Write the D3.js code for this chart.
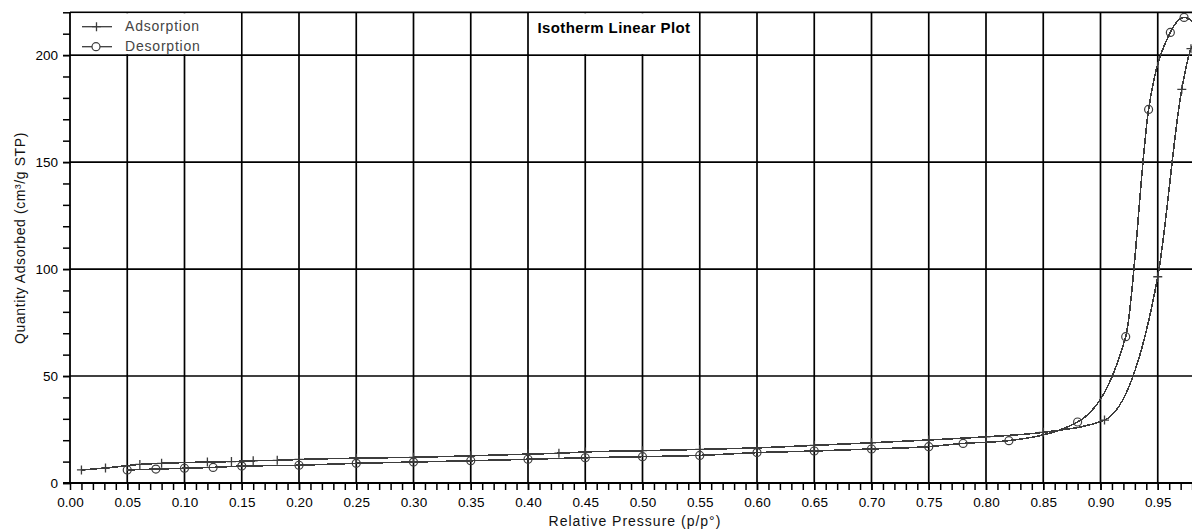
<!DOCTYPE html>
<html>
<head>
<meta charset="utf-8">
<script src="https://cdn.jsdelivr.net/npm/d3@7"></script>
<style>
  html, body { margin: 0; padding: 0; background: #fff; overflow: hidden; }
  svg { display: block; font-family: "Liberation Sans", Arial, sans-serif; }
</style>
</head>
<body>
<svg id="chart" width="1192" height="529"></svg>
<script>
// ---- data ----
const adsP = [0.010, 0.031, 0.061, 0.080, 0.120, 0.141, 0.160, 0.181, 0.200, 0.250, 0.300, 0.350, 0.400, 0.427, 0.450, 0.500, 0.550, 0.600, 0.650, 0.700, 0.750, 0.800, 0.850, 0.9035, 0.950, 0.971, 0.979, 0.990];
const adsV = [6.1, 7.0, 8.7, 9.2, 9.8, 10.0, 10.4, 10.6, 11.0, 11.6, 12.0, 12.7, 13.5, 13.9, 14.5, 15.1, 15.7, 16.4, 17.6, 18.8, 20.1, 21.6, 23.7, 29.4, 96.4, 184.0, 203.0, 210.0];
const desP = [0.050, 0.075, 0.100, 0.125, 0.150, 0.200, 0.250, 0.300, 0.350, 0.400, 0.450, 0.500, 0.550, 0.600, 0.650, 0.700, 0.750, 0.780, 0.820, 0.880, 0.922, 0.942, 0.961, 0.973, 0.990];
const desV = [6.1, 6.5, 6.9, 7.3, 7.9, 8.3, 9.2, 9.8, 10.4, 11.1, 11.8, 12.3, 12.9, 14.2, 14.95, 15.9, 17.0, 18.5, 19.8, 28.5, 68.4, 174.6, 210.6, 217.6, 210.0];

const xTicks = [0.00, 0.05, 0.10, 0.15, 0.20, 0.25, 0.30, 0.35, 0.40, 0.45, 0.50, 0.55, 0.60, 0.65, 0.70, 0.75, 0.80, 0.85, 0.90, 0.95];
const xTickLabels = ["0.00","0.05","0.10","0.15","0.20","0.25","0.30","0.35","0.40","0.45","0.50","0.55","0.60","0.65","0.70","0.75","0.80","0.85","0.90","0.95"];
const yTicks = [0, 50, 100, 150, 200];
const yTickLabels = ["0", "50", "100", "150", "200"];
const xMinor = d3.range(1, 100).map(i => i / 100);
const yMinor = d3.range(0, 230, 10);

const seriesNames = ["Adsorption", "Desorption"];
const titleText = "Isotherm Linear Plot";
const xTitle = "Relative Pressure (p/p\u00B0)";
const yTitle = "Quantity Adsorbed (cm\u00B3/g STP)";

// ---- layout ----
const svg = d3.select("#chart");
const L = 70, T = 12.3, B = 483;
const x = d3.scaleLinear().domain([0, 1]).range([L, L + 1145]);
const y = d3.scaleLinear().domain([0, 220]).range([B, T]);
const ink = "#000";
const dataInk = "#3c3c3c";

// grid
const grid = svg.append("g");
grid.selectAll("line.v").data(xTicks.slice(1).concat([1.0])).join("line")
  .attr("x1", d => x(d)).attr("x2", d => x(d))
  .attr("y1", T).attr("y2", B)
  .attr("stroke", ink).attr("stroke-width", 1.7);
grid.selectAll("line.h").data(yTicks.slice(1)).join("line")
  .attr("x1", L).attr("x2", 1192)
  .attr("y1", d => y(d)).attr("y2", d => y(d))
  .attr("stroke", ink).attr("stroke-width", 1.7);
// top border
grid.append("line").attr("x1", L).attr("x2", 1192).attr("y1", T).attr("y2", T)
  .attr("stroke", ink).attr("stroke-width", 1.7);

// white boxes for legend & title
svg.append("rect").attr("x", x(0) + 1).attr("y", T + 1)
  .attr("width", x(0.15) - x(0) - 2).attr("height", y(200) - T - 2).attr("fill", "#fff");
svg.append("rect").attr("x", x(0.40) + 1).attr("y", T + 1)
  .attr("width", x(0.55) - x(0.40) - 2).attr("height", y(200) - T - 2).attr("fill", "#fff");

// axes
const xMinorAxis = d3.axisBottom(x).tickValues(xMinor).tickSize(7).tickFormat("");
svg.append("g").attr("transform", `translate(0,${B})`).call(xMinorAxis)
  .call(g => g.select(".domain").remove())
  .call(g => g.selectAll("line").attr("stroke", ink).attr("stroke-width", 1.5));
const xAxis = d3.axisBottom(x).tickValues(xTicks).tickSize(7)
  .tickFormat((d, i) => xTickLabels[i]);
svg.append("g").attr("transform", `translate(0,${B})`).call(xAxis)
  .call(g => g.select(".domain").remove())
  .call(g => g.selectAll("line").attr("stroke", ink).attr("stroke-width", 1.5))
  .call(g => g.selectAll("text").attr("y", 0).attr("dy", 23.5)
    .attr("font-size", "13.5px").attr("fill", "#000").attr("font-family", "Liberation Sans, Arial, sans-serif"));

const yMinorAxis = d3.axisLeft(y).tickValues(yMinor).tickSize(7).tickFormat("");
svg.append("g").attr("transform", `translate(${L},0)`).call(yMinorAxis)
  .call(g => g.select(".domain").remove())
  .call(g => g.selectAll("line").attr("stroke", ink).attr("stroke-width", 1.5));
const yAxis = d3.axisLeft(y).tickValues(yTicks).tickSize(7)
  .tickFormat((d, i) => yTickLabels[i]);
svg.append("g").attr("transform", `translate(${L},0)`).call(yAxis)
  .call(g => g.select(".domain").remove())
  .call(g => g.selectAll("line").attr("stroke", ink).attr("stroke-width", 1.5))
  .call(g => g.selectAll("text").attr("x", -12).attr("dy", "0.35em")
    .attr("font-size", "13.5px").attr("fill", "#000").attr("font-family", "Liberation Sans, Arial, sans-serif"));

// axis lines
svg.append("line").attr("x1", L).attr("x2", L).attr("y1", T).attr("y2", B)
  .attr("stroke", ink).attr("stroke-width", 1.8);
svg.append("line").attr("x1", L - 7).attr("x2", 1192).attr("y1", B).attr("y2", B)
  .attr("stroke", ink).attr("stroke-width", 1.8);

// titles
svg.append("text").attr("x", 614).attr("y", 32.5).attr("text-anchor", "middle")
  .attr("font-size", "15px").attr("font-weight", "bold").attr("letter-spacing", "0.4px")
  .attr("fill", "#000").text(titleText);
svg.append("text").attr("x", 635).attr("y", 526).attr("text-anchor", "middle")
  .attr("font-size", "14px").attr("letter-spacing", "1px")
  .attr("fill", "#111").text(xTitle);
svg.append("text").attr("transform", `translate(25,${238}) rotate(-90)`)
  .attr("text-anchor", "middle")
  .attr("font-size", "14px").attr("letter-spacing", "0.6px")
  .attr("fill", "#111").text(yTitle);

// data
svg.append("clipPath").attr("id", "plotClip").append("rect")
  .attr("x", L).attr("y", T).attr("width", 1192 - L).attr("height", B - T);
const plot = svg.append("g").attr("clip-path", "url(#plotClip)");
const line = d3.line().x(d => x(d[0])).y(d => y(d[1])).curve(d3.curveMonotoneX);
const ads = adsP.map((p, i) => [p, adsV[i]]);
const des = desP.map((p, i) => [p, desV[i]]);

plot.append("path").datum(ads).attr("d", line)
  .attr("fill", "none").attr("stroke", dataInk).attr("stroke-width", 1.6)
  .attr("shape-rendering", "crispEdges");
plot.append("path").datum(des).attr("d", line)
  .attr("fill", "none").attr("stroke", dataInk).attr("stroke-width", 1.6)
  .attr("shape-rendering", "crispEdges");

const cs = 4.5;
plot.selectAll("path.cross").data(ads).join("path")
  .attr("d", d => `M${x(d[0]) - cs},${y(d[1])}H${x(d[0]) + cs}M${x(d[0])},${y(d[1]) - cs}V${y(d[1]) + cs}`)
  .attr("stroke", dataInk).attr("stroke-width", 1.3).attr("fill", "none");
plot.selectAll("circle.des").data(des).join("circle")
  .attr("cx", d => x(d[0])).attr("cy", d => y(d[1])).attr("r", 4)
  .attr("fill", "none").attr("stroke", dataInk).attr("stroke-width", 1.2);

// legend
const lg = svg.append("g");
const legendY = [26.7, 46.7];
seriesNames.forEach((name, i) => {
  const ly = legendY[i];
  lg.append("line").attr("x1", 82).attr("x2", 112).attr("y1", ly).attr("y2", ly)
    .attr("stroke", dataInk).attr("stroke-width", 1.3);
  if (i === 0) {
    lg.append("path").attr("d", `M${96.5 - cs},${ly}H${96.5 + cs}M96.5,${ly - cs}V${ly + cs}`)
      .attr("stroke", dataInk).attr("stroke-width", 1.3);
  } else {
    lg.append("circle").attr("cx", 96).attr("cy", ly).attr("r", 4)
      .attr("fill", "#fff").attr("stroke", dataInk).attr("stroke-width", 1.2);
  }
  lg.append("text").attr("x", 125).attr("y", ly + 4).attr("font-size", "14px")
    .attr("letter-spacing", "0.8px").attr("fill", "#444").text(name);
});
</script>
</body>
</html>
